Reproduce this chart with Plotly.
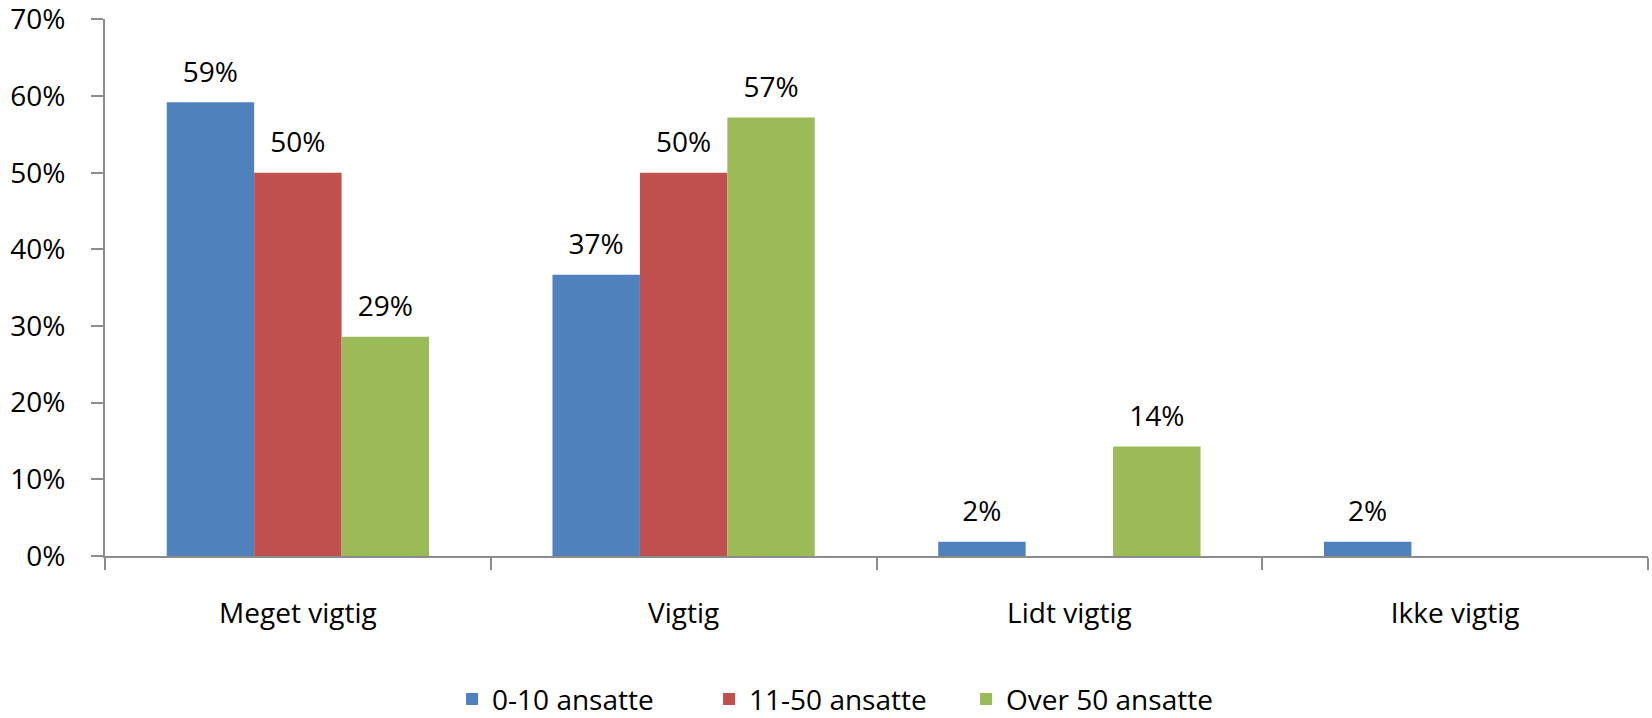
import plotly.graph_objects as go

categories = ["Meget vigtig", "Vigtig", "Lidt vigtig", "Ikke vigtig"]
series_names = ["0-10 ansatte", "11-50 ansatte", "Over 50 ansatte"]
small = [0.592, 0.367, 0.0185, 0.0185]
medium = [0.50, 0.50, 0.0, 0.0]
large = [0.286, 0.572, 0.143, 0.0]
y_ticks = [0.0, 0.1, 0.2, 0.3, 0.4, 0.5, 0.6, 0.7]
y_tick_labels = ["0%", "10%", "20%", "30%", "40%", "50%", "60%", "70%"]
colors = ["#4F81BD", "#C0504D", "#9BBB59"]

FONT = "Open Sans, sans-serif"
AXIS = "#8c8c8c"

fig = go.Figure()
for i, (name, vals, col) in enumerate(zip(series_names, [small, medium, large], colors)):
    labels = [f"{round(v * 100):.0f}%" if v > 0 else "" for v in vals]
    fig.add_trace(go.Bar(
        name=name, x=categories, y=vals, marker_color=col,
        marker_line_width=0, offsetgroup=str(i),
    ))
    # value labels, sitting a bit above each bar
    fig.add_trace(go.Scatter(
        x=categories, y=vals, mode="markers+text", text=labels,
        textposition="top center", offsetgroup=str(i),
        marker=dict(size=20, opacity=0), showlegend=False, hoverinfo="skip",
        textfont=dict(size=28, color="black", family=FONT), cliponaxis=False,
    ))

fig.update_layout(
    barmode="group", scattermode="group", bargap=0.32, bargroupgap=0,
    width=1652, height=718,
    plot_bgcolor="white", paper_bgcolor="white",
    margin=dict(l=105, r=4, t=19, b=162),
    font=dict(family=FONT, size=28, color="black"),
    legend=dict(orientation="h", xref="container", x=0.507, xanchor="center",
                yref="container", y=0.026, yanchor="middle",
                font=dict(size=28), traceorder="normal", entrywidth=212),
)
fig.update_xaxes(showline=True, linecolor=AXIS, linewidth=2, automargin=False,
                 ticks="outside", tickson="boundaries", ticklen=12,
                 tickcolor=AXIS, tickwidth=2, ticklabelstandoff=31)
fig.update_yaxes(range=[0, 0.7005], tickvals=y_ticks, ticktext=y_tick_labels,
                 showline=True, linecolor=AXIS, linewidth=2, automargin=False,
                 ticks="outside", ticklen=12, tickcolor=AXIS, tickwidth=2,
                 showgrid=False, zeroline=False, ticklabelstandoff=20,
                 ticklabeloverflow="allow")

# page body has a default 8px margin; drop it so the figure sits at the corner
fig.write_html("out.html", config={"displayModeBar": False},
               post_script="document.body.style.margin='0px';")
